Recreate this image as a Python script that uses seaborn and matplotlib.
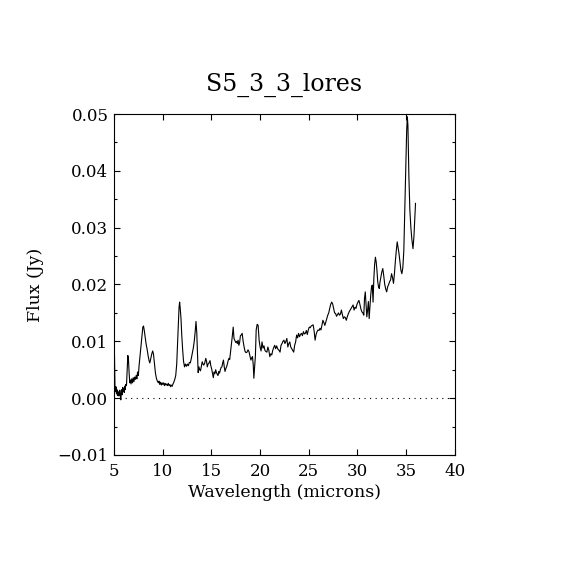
import numpy as np
import pandas as pd
import seaborn as sns
import matplotlib.pyplot as plt
from matplotlib.ticker import MultipleLocator

# spectrum (wavelength in microns, flux in Jy)
wavelength = [
    5.05, 5.10, 5.15, 5.20, 5.25, 5.30, 5.35, 5.40, 5.45, 5.50, 5.55, 5.60, 5.65, 5.70,
    5.75, 5.80, 5.85, 5.90, 5.95, 6.00, 6.05, 6.10, 6.15, 6.20, 6.28, 6.35, 6.42, 6.48,
    6.55, 6.62, 6.68, 6.75, 6.82, 6.90, 6.97, 7.05, 7.12, 7.20, 7.28, 7.35, 7.42, 7.50,
    7.58, 7.68, 7.78, 7.88, 7.96, 8.03, 8.10, 8.20, 8.30, 8.40, 8.50, 8.60, 8.68, 8.78,
    8.88, 8.97, 9.05, 9.15, 9.25, 9.35, 9.45, 9.55, 9.62, 9.70, 9.78, 9.86, 9.94, 10.02,
    10.10, 10.18, 10.26, 10.34, 10.42, 10.50, 10.58, 10.66, 10.74, 10.82, 10.90, 10.98,
    11.06, 11.14, 11.24, 11.34, 11.44, 11.52, 11.60, 11.68, 11.74, 11.80, 11.88, 11.96,
    12.05, 12.14, 12.24, 12.34, 12.44, 12.54, 12.64, 12.74, 12.84, 12.94, 13.04, 13.14,
    13.24, 13.34, 13.42, 13.50, 13.58, 13.64, 13.72, 13.80, 13.88, 13.96, 14.06, 14.14,
    14.22, 14.32, 14.42, 14.50, 14.58, 14.66, 14.76, 14.86, 14.94, 15.02, 15.10, 15.20,
    15.28, 15.36, 15.44, 15.52, 15.60, 15.68, 15.76, 15.84, 15.92, 16.00, 16.08, 16.16,
    16.24, 16.32, 16.40, 16.48, 16.56, 16.64, 16.72, 16.80, 16.88, 16.96, 17.06, 17.14,
    17.24, 17.32, 17.40, 17.50, 17.58, 17.66, 17.74, 17.82, 17.90, 17.98, 18.06, 18.16,
    18.26, 18.36, 18.46, 18.56, 18.66, 18.76, 18.86, 18.96, 19.06, 19.14, 19.22, 19.30,
    19.36, 19.44, 19.52, 19.60, 19.70, 19.80, 19.90, 20.00, 20.10, 20.20, 20.30, 20.40,
    20.50, 20.60, 20.70, 20.80, 20.90, 21.00, 21.10, 21.20, 21.30, 21.40, 21.50, 21.60,
    21.70, 21.80, 21.95, 22.05, 22.15, 22.25, 22.35, 22.45, 22.55, 22.65, 22.75, 22.85,
    22.95, 23.05, 23.15, 23.25, 23.35, 23.45, 23.55, 23.65, 23.75, 23.85, 23.95, 24.05,
    24.15, 24.25, 24.35, 24.45, 24.55, 24.65, 24.75, 24.85, 24.95, 25.05, 25.15, 25.25,
    25.35, 25.45, 25.55, 25.65, 25.75, 25.85, 25.95, 26.05, 26.15, 26.25, 26.35, 26.45,
    26.55, 26.65, 26.75, 26.85, 26.95, 27.05, 27.15, 27.25, 27.35, 27.45, 27.55, 27.65,
    27.75, 27.85, 27.95, 28.05, 28.15, 28.25, 28.35, 28.45, 28.55, 28.65, 28.75, 28.85,
    28.95, 29.05, 29.15, 29.25, 29.35, 29.45, 29.55, 29.65, 29.75, 29.85, 29.95, 30.05,
    30.15, 30.25, 30.35, 30.45, 30.55, 30.65, 30.72, 30.80, 30.88, 30.96, 31.04, 31.12,
    31.20, 31.28, 31.36, 31.44, 31.52, 31.60, 31.68, 31.76, 31.84, 31.92, 32.00, 32.08,
    32.16, 32.24, 32.32, 32.40, 32.50, 32.60, 32.70, 32.80, 32.90, 33.00, 33.10, 33.20,
    33.30, 33.40, 33.50, 33.60, 33.70, 33.80, 33.90, 34.00, 34.08, 34.16, 34.26, 34.36,
    34.46, 34.56, 34.66, 34.76, 34.86, 34.96, 35.05, 35.12, 35.18, 35.28, 35.38, 35.48,
    35.58, 35.70, 35.80, 35.96,
]
flux = [
    0.0075, 0.0018, 0.0012, 0.0020, 0.0008, 0.0015, 0.0005, 0.0012, 0.0004, 0.0010, 0.0005, 0.0014, 0.0003, -0.0003,
    0.0008, 0.0015, 0.0006, 0.0019, 0.0012, 0.0017, 0.0010, 0.0021, 0.0015, 0.0024, 0.0022, 0.0050, 0.0075, 0.0070,
    0.0045, 0.0027, 0.0032, 0.0025, 0.0034, 0.0027, 0.0036, 0.0029, 0.0037, 0.0033, 0.0040, 0.0034, 0.0046, 0.0040,
    0.0058, 0.0076, 0.0093, 0.0110, 0.0125, 0.0127, 0.0120, 0.0108, 0.0095, 0.0086, 0.0075, 0.0066, 0.0062, 0.0070,
    0.0078, 0.0083, 0.0078, 0.0062, 0.0045, 0.0035, 0.0030, 0.0027, 0.0030, 0.0024, 0.0028, 0.0023, 0.0027, 0.0024,
    0.0027, 0.0022, 0.0026, 0.0023, 0.0025, 0.0022, 0.0026, 0.0022, 0.0024, 0.0020, 0.0023, 0.0021,
    0.0025, 0.0028, 0.0033, 0.0040, 0.0060, 0.0093, 0.0130, 0.0160, 0.0169, 0.0158, 0.0140, 0.0110,
    0.0085, 0.0065, 0.0055, 0.0060, 0.0056, 0.0060, 0.0057, 0.0063, 0.0062, 0.0070, 0.0079, 0.0088,
    0.0100, 0.0118, 0.0135, 0.0115, 0.0075, 0.0045, 0.0055, 0.0050, 0.0048, 0.0055, 0.0064, 0.0060,
    0.0058, 0.0062, 0.0070, 0.0065, 0.0055, 0.0060, 0.0062, 0.0066, 0.0057, 0.0052, 0.0045, 0.0036,
    0.0046, 0.0043, 0.0050, 0.0045, 0.0042, 0.0040, 0.0047, 0.0044, 0.0050, 0.0054, 0.0055, 0.0062,
    0.0067, 0.0055, 0.0047, 0.0052, 0.0055, 0.0060, 0.0066, 0.0070, 0.0068, 0.0080, 0.0095, 0.0108,
    0.0125, 0.0105, 0.0102, 0.0098, 0.0100, 0.0096, 0.0102, 0.0093, 0.0098, 0.0110, 0.0111, 0.0114,
    0.0100, 0.0090, 0.0082, 0.0080, 0.0081, 0.0085, 0.0082, 0.0074, 0.0067, 0.0071, 0.0073, 0.0058,
    0.0035, 0.0055, 0.0075, 0.0120, 0.0130, 0.0128, 0.0102, 0.0090, 0.0083, 0.0099, 0.0088, 0.0092,
    0.0084, 0.0082, 0.0081, 0.0090, 0.0084, 0.0073, 0.0078, 0.0076, 0.0084, 0.0089, 0.0093, 0.0087,
    0.0092, 0.0087, 0.0084, 0.0081, 0.0093, 0.0096, 0.0100, 0.0102, 0.0096, 0.0100, 0.0105, 0.0090,
    0.0096, 0.0099, 0.0090, 0.0087, 0.0084, 0.0081, 0.0093, 0.0099, 0.0111, 0.0106, 0.0114, 0.0108,
    0.0112, 0.0114, 0.0110, 0.0117, 0.0113, 0.0114, 0.0119, 0.0112, 0.0120, 0.0125, 0.0124, 0.0127,
    0.0128, 0.0129, 0.0118, 0.0102, 0.0112, 0.0117, 0.0120, 0.0119, 0.0123, 0.0120, 0.0128, 0.0137,
    0.0133, 0.0128, 0.0134, 0.0140, 0.0146, 0.0150, 0.0158, 0.0165, 0.0169, 0.0166, 0.0158, 0.0150,
    0.0149, 0.0144, 0.0147, 0.0150, 0.0146, 0.0148, 0.0155, 0.0147, 0.0140, 0.0143, 0.0142, 0.0137,
    0.0143, 0.0148, 0.0152, 0.0155, 0.0158, 0.0161, 0.0164, 0.0155, 0.0160, 0.0158, 0.0165, 0.0169,
    0.0172, 0.0165, 0.0157, 0.0152, 0.0150, 0.0146, 0.0175, 0.0187, 0.0165, 0.0143, 0.0155, 0.0170,
    0.0140, 0.0160, 0.0181, 0.0195, 0.0199, 0.0169, 0.0210, 0.0235, 0.0248, 0.0240, 0.0225, 0.0205,
    0.0196, 0.0193, 0.0205, 0.0213, 0.0222, 0.0228, 0.0215, 0.0200, 0.0192, 0.0187, 0.0196, 0.0200,
    0.0205, 0.0208, 0.0219, 0.0212, 0.0202, 0.0220, 0.0243, 0.0262, 0.0275, 0.0266, 0.0255, 0.0240,
    0.0225, 0.0219, 0.0230, 0.0260, 0.0331, 0.0401, 0.0470, 0.0495, 0.0480, 0.0390, 0.0331, 0.0301,
    0.0280, 0.0263, 0.0285, 0.0343,
]

title = "S5_3_3_lores"
x_label = "Wavelength (microns)"
y_label = "Flux (Jy)"

df = pd.DataFrame({"wavelength": wavelength, "flux": flux})

sns.set_style("ticks")
plt.rcParams["font.family"] = ["DejaVu Serif"]
plt.rcParams["text.color"] = "black"
plt.rcParams["axes.labelcolor"] = "black"

fig = plt.figure(figsize=(5.7, 5.7), dpi=100)
ax = fig.add_axes([0.2, 0.2018, 0.598, 0.5982])

sns.lineplot(data=df, x="wavelength", y="flux", ax=ax, color="black",
             linewidth=0.8, sort=False, estimator=None)
ax.axhline(0, color="black", linewidth=0.8, linestyle=(0, (1, 4)))

ax.set_xlim(5, 40)
ax.set_ylim(-0.01, 0.05)
ax.xaxis.set_major_locator(MultipleLocator(5))
ax.yaxis.set_major_locator(MultipleLocator(0.01))
ax.yaxis.set_minor_locator(MultipleLocator(0.005))
ax.set_yticks(ax.get_yticks())
ax.set_yticklabels([f"{v:.2f}".replace("-", "\u2212") for v in ax.get_yticks()])
ax.set_ylim(-0.01, 0.05)

ax.tick_params(which="both", direction="in", top=True, right=True,
               width=0.8, colors="black", labelsize=12)
ax.tick_params(axis="x", which="major", length=4.5, pad=6)
ax.tick_params(axis="y", which="major", length=4.5, pad=4)
ax.tick_params(axis="y", which="minor", length=2.5)
for s in ax.spines.values():
    s.set_linewidth(0.8)
    s.set_color("black")

ax.set_title(title, fontsize=17, pad=17, color="black")
ax.set_xlabel(x_label, fontsize=12.5, labelpad=3)
ax.set_ylabel(y_label, fontsize=12.5, labelpad=10)

fig.savefig("out.png", dpi=100, facecolor="white")
